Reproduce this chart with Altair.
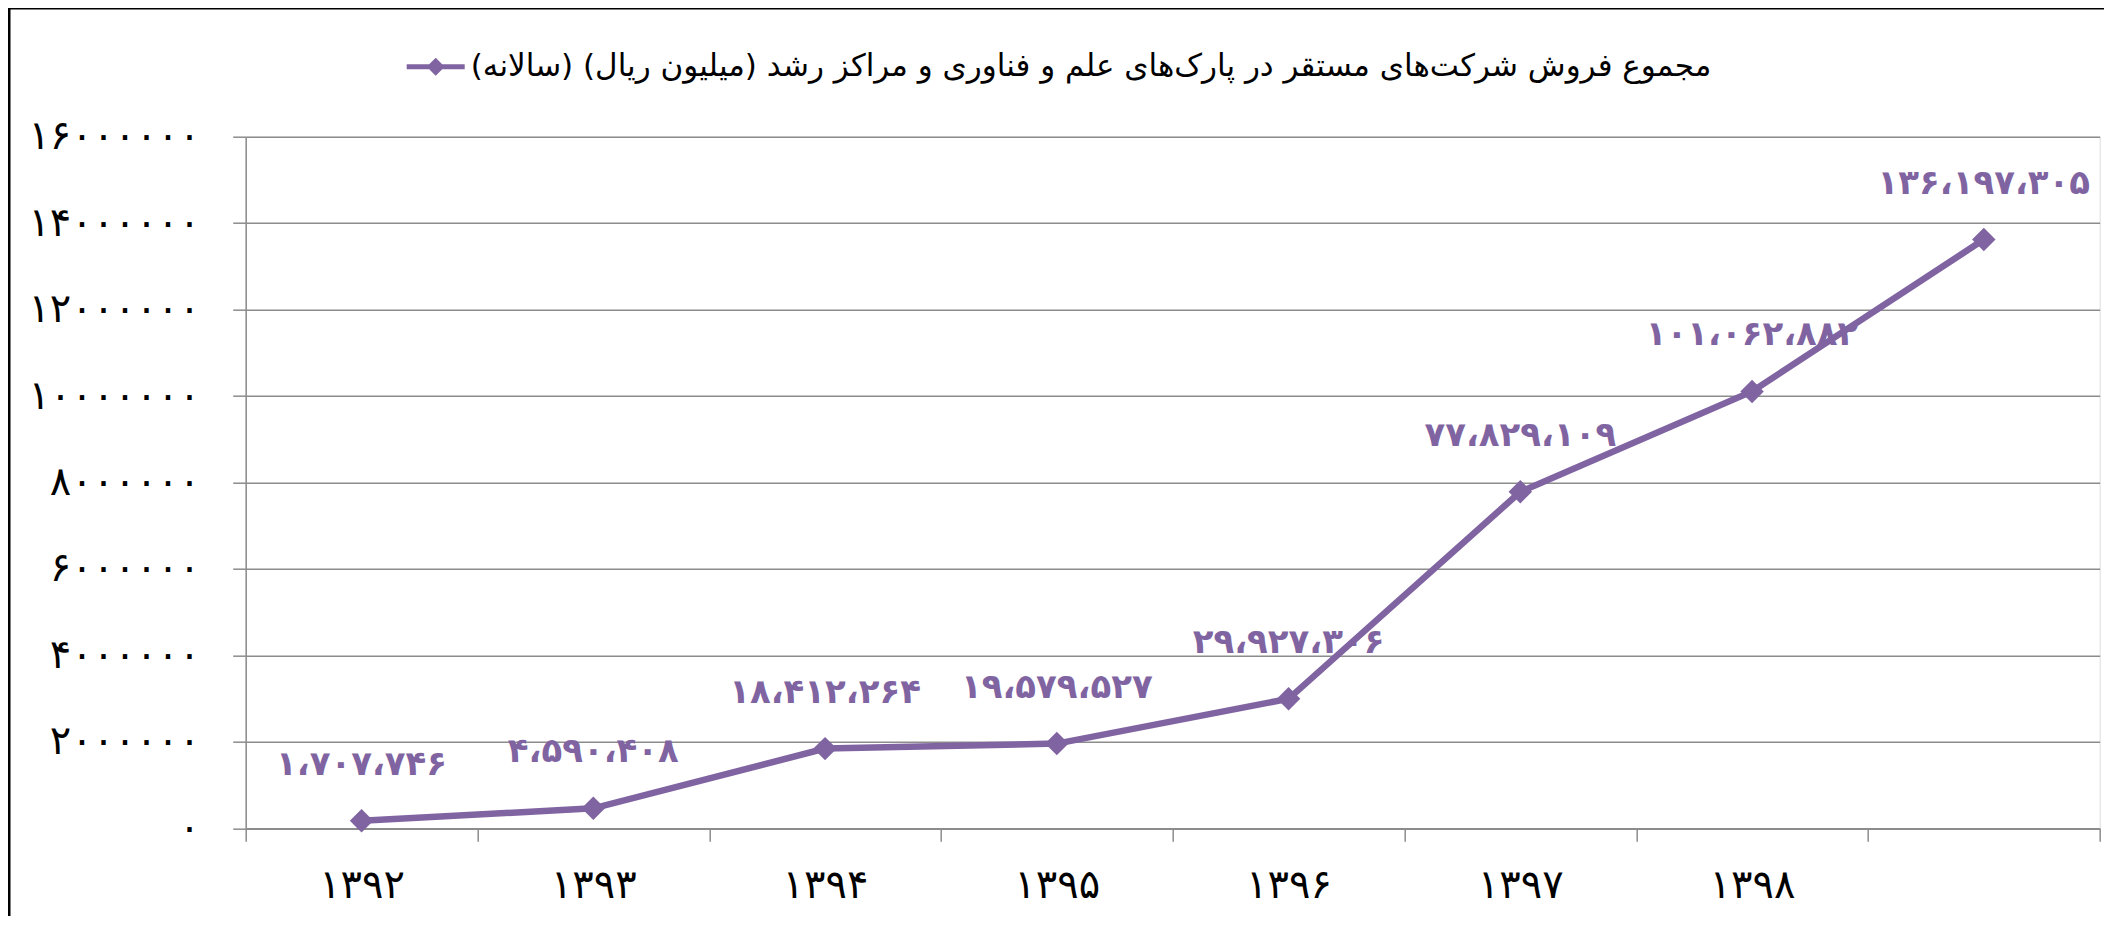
import altair as alt
import pandas as pd

# ---- data ----
years = ["۱۳۹۲", "۱۳۹۳", "۱۳۹۴", "۱۳۹۵", "۱۳۹۶", "۱۳۹۷", "۱۳۹۸", "۱۳۹۹"]
x_tick_labels = ["۱۳۹۲", "۱۳۹۳", "۱۳۹۴", "۱۳۹۵", "۱۳۹۶", "۱۳۹۷", "۱۳۹۸", ""]
plotted_values = [170774.6, 459040.8, 1841226.4, 1957952.7, 2992730.6, 7782910.9, 10106288.2, 13619730.5]
data_labels = ["۱،۷۰۷،۷۴۶", "۴،۵۹۰،۴۰۸", "۱۸،۴۱۲،۲۶۴", "۱۹،۵۷۹،۵۲۷",
               "۲۹،۹۲۷،۳۰۶", "۷۷،۸۲۹،۱۰۹", "۱۰۱،۰۶۲،۸۸۲", "۱۳۶،۱۹۷،۳۰۵"]
y_tick_values = [0, 2000000, 4000000, 6000000, 8000000, 10000000, 12000000, 14000000, 16000000]
y_tick_labels = ["۰", "۲۰۰۰۰۰۰", "۴۰۰۰۰۰۰", "۶۰۰۰۰۰۰", "۸۰۰۰۰۰۰",
                 "۱۰۰۰۰۰۰۰", "۱۲۰۰۰۰۰۰", "۱۴۰۰۰۰۰۰", "۱۶۰۰۰۰۰۰"]
series_name = "مجموع فروش شرکت\u200cهای مستقر در پارک\u200cهای علم و فناوری و مراکز رشد (میلیون ریال) (سالانه)\u200f"

PURPLE = "#8064A2"
GRID = "#8c8c8c"
FONT = "DejaVu Sans"

df = pd.DataFrame({
    "year": years,
    "value": plotted_values,
    "label": data_labels,
    "series": [series_name] * len(years),
})

def ternary(field, keys, labels, quote_keys):
    expr = "''"
    for k, l in reversed(list(zip(keys, labels))):
        kk = f"'{k}'" if quote_keys else str(k)
        expr = f"({field} == {kk} ? '{l}' : {expr})"
    return expr

x_label_expr = ternary("datum.value", years, x_tick_labels, True)
y_label_expr = ternary("datum.value", y_tick_values, y_tick_labels, False)

x_enc = alt.X(
    "year:N", sort=years,
    scale=alt.Scale(type="band", paddingInner=0, paddingOuter=0),
    axis=alt.Axis(title=None, labelExpr=x_label_expr, tickBand="extent",
                  grid=False, domain=True, domainColor=GRID, domainWidth=1.5,
                  ticks=True, tickColor=GRID, tickWidth=1.5, tickSize=13,
                  labelAngle=0, labelFont=FONT, labelFontSize=40, labelColor="black",
                  labelBaseline="middle", labelPadding=44),
)
y_enc = alt.Y(
    "value:Q",
    scale=alt.Scale(domain=[0, 16000000], nice=False, zero=True),
    axis=alt.Axis(title=None, values=y_tick_values, labelExpr=y_label_expr,
                  grid=True, gridColor=GRID, gridWidth=1.5,
                  domain=True, domainColor=GRID, domainWidth=1.5,
                  ticks=True, tickColor=GRID, tickWidth=1.5, tickSize=13,
                  labelFont=FONT, labelFontSize=40, labelColor="black",
                  labelPadding=33),
)

base = alt.Chart(df).encode(x=x_enc, y=y_enc)

legend_symbol = ("M-1,-0.086L-0.224,-0.086L0,-0.31L0.224,-0.086L1,-0.086"
                 "L1,0.086L0.224,0.086L0,0.31L-0.224,0.086L-1,0.086Z")

labels = base.mark_text(dy=-56, fontSize=34, fontWeight="bold", color=PURPLE,
                        font=FONT).encode(text="label:N")
line = base.mark_line(strokeWidth=6.5, color=PURPLE)
points = base.mark_point(shape="diamond", size=550, filled=True, opacity=1).encode(
    color=alt.Color("series:N", scale=alt.Scale(range=[PURPLE]),
                    legend=alt.Legend(title=None, orient="none", legendX=161, legendY=-99,
                                      symbolType=legend_symbol, symbolSize=3364,
                                      symbolStrokeWidth=0, symbolOpacity=1,
                                      labelFont=FONT, labelFontSize=31, labelColor="black",
                                      labelLimit=3000, labelOffset=6, padding=0))
)

frame_df = pd.DataFrame({"f": [1]})
frame = alt.Chart(frame_df).mark_rect(fillOpacity=0, stroke="black", strokeWidth=3).encode(
    x=alt.value(-236.7), x2=alt.value(2300), y=alt.value(-128.7), y2=alt.value(1100)
)

chart = alt.layer(frame, labels, line, points).properties(
    width=1854, height=691.5,
    autosize=alt.AutoSizeParams(type="none"),
    padding={"left": 237.7, "top": 128.7, "right": 4, "bottom": 88},
).configure_view(stroke=None).configure(background="white")

chart.save("out.html", embed_options={"renderer": "svg", "actions": False})
